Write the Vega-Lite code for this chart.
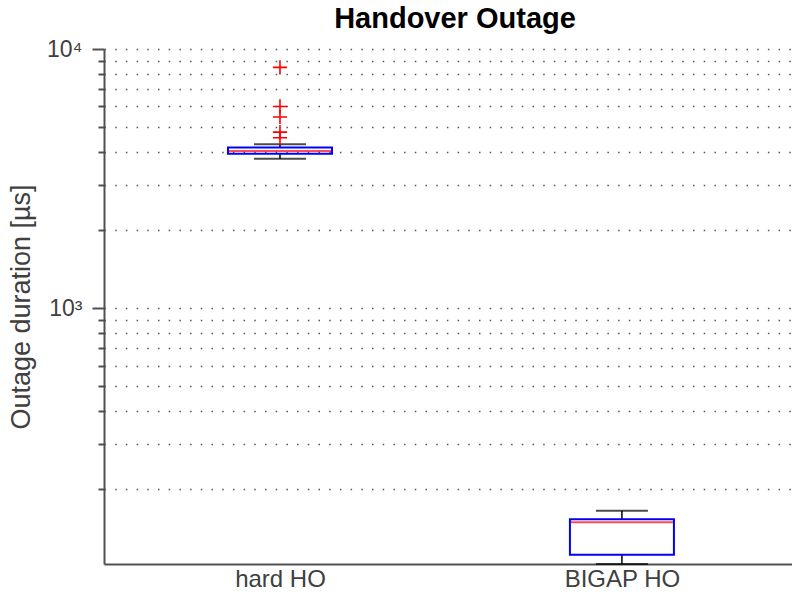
{
  "$schema": "https://vega.github.io/schema/vega-lite/v6.json",
  "width": 688,
  "height": 515,
  "autosize": {"type": "none"},
  "padding": {"left": 104, "top": 49, "right": 0, "bottom": 30},
  "background": "white",
  "title": {
    "text": "Handover Outage",
    "fontSize": 29,
    "font": "Liberation Sans",
    "fontWeight": "bold",
    "color": "#000000",
    "anchor": "middle",
    "offset": 4,
    "dx": 7
  },
  "config": {
    "view": {"stroke": null},
    "axis": {
      "labelFont": "Liberation Sans",
      "titleFont": "Liberation Sans",
      "labelColor": "#404040",
      "titleColor": "#404040",
      "domainColor": "#505050",
      "tickColor": "#505050",
      "domainWidth": 2,
      "tickWidth": 2
    }
  },
  "datasets": {
    "boxes": [
      {"group": "hard HO", "pos": 1, "lo": 3770, "q1": 3943, "med": 4040, "q3": 4169, "hi": 4290},
      {"group": "BIGAP HO", "pos": 2, "lo": 103.1, "q1": 111.8, "med": 149.2, "q3": 153.2, "hi": 165.4}
    ],
    "outliers": [
      {"group": "hard HO", "pos": 1, "value": 8490},
      {"group": "hard HO", "pos": 1, "value": 6003},
      {"group": "hard HO", "pos": 1, "value": 5464},
      {"group": "hard HO", "pos": 1, "value": 4780},
      {"group": "hard HO", "pos": 1, "value": 4545}
    ]
  },
  "encoding": {
    "x": {
      "field": "pos",
      "type": "quantitative",
      "scale": {"domain": [0.5, 2.4827], "nice": false, "zero": false},
      "axis": {
        "title": null,
        "values": [1, 2],
        "labelExpr": "datum.value == 1 ? 'hard HO' : 'BIGAP HO'",
        "labelFontSize": 24,
        "labelPadding": 3,
        "tickSize": 0,
        "grid": false,
        "labelFlush": false
      }
    }
  },
  "layer": [
    {
      "data": {"name": "boxes"},
      "mark": {"type": "rule", "color": "#000000", "strokeWidth": 1.5},
      "encoding": {
        "y": {
          "field": "q3",
          "type": "quantitative",
          "scale": {"type": "log", "domain": [103, 10000], "nice": false},
          "axis": {
            "title": "Outage duration [µs]",
            "titleFontSize": 27,
            "titleFontWeight": "normal",
            "titlePadding": 11,
            "values": [200, 300, 400, 500, 600, 700, 800, 900, 1000, 2000, 3000, 4000, 5000, 6000, 7000, 8000, 9000, 10000],
            "labelExpr": "datum.value == 1000 ? '10³' : (datum.value == 10000 ? '10⁴' : '')",
            "labelFontSize": 23,
            "labelPadding": 10,
            "labelBaseline": "middle",
            "tickSize": {"condition": {"test": "datum.value == 1000 || datum.value == 10000", "value": 12}, "value": 6},
            "grid": true,
            "gridColor": "#555555",
            "gridWidth": 1.5,
            "gridDash": [1.5, 9.2],
            "labelFlush": false
          }
        },
        "y2": {"field": "hi"}
      }
    },
    {
      "data": {"name": "boxes"},
      "mark": {"type": "rule", "color": "#000000", "strokeWidth": 1.5},
      "encoding": {
        "y": {"field": "lo", "type": "quantitative"},
        "y2": {"field": "q1"}
      }
    },
    {
      "data": {"name": "boxes"},
      "mark": {"type": "tick", "orient": "horizontal", "size": 52, "thickness": 2, "color": "#000000"},
      "encoding": {"y": {"field": "hi", "type": "quantitative"}}
    },
    {
      "data": {"name": "boxes"},
      "mark": {"type": "tick", "orient": "horizontal", "size": 52, "thickness": 2, "color": "#000000"},
      "encoding": {"y": {"field": "lo", "type": "quantitative"}}
    },
    {
      "data": {"name": "boxes"},
      "mark": {"type": "bar", "size": 104, "fill": null, "fillOpacity": 0, "stroke": "#0000ff", "strokeWidth": 2},
      "encoding": {
        "y": {"field": "q1", "type": "quantitative"},
        "y2": {"field": "q3"}
      }
    },
    {
      "data": {"name": "boxes"},
      "mark": {"type": "tick", "orient": "horizontal", "size": 102, "thickness": 2, "color": "#ff0000"},
      "encoding": {"y": {"field": "med", "type": "quantitative"}}
    },
    {
      "data": {"name": "outliers"},
      "mark": {"type": "point", "shape": "M-1,0H1M0,-1V1", "size": 200, "filled": false, "stroke": "#ff0000", "strokeWidth": 1.6, "opacity": 1},
      "encoding": {"y": {"field": "value", "type": "quantitative"}}
    }
  ]
}
